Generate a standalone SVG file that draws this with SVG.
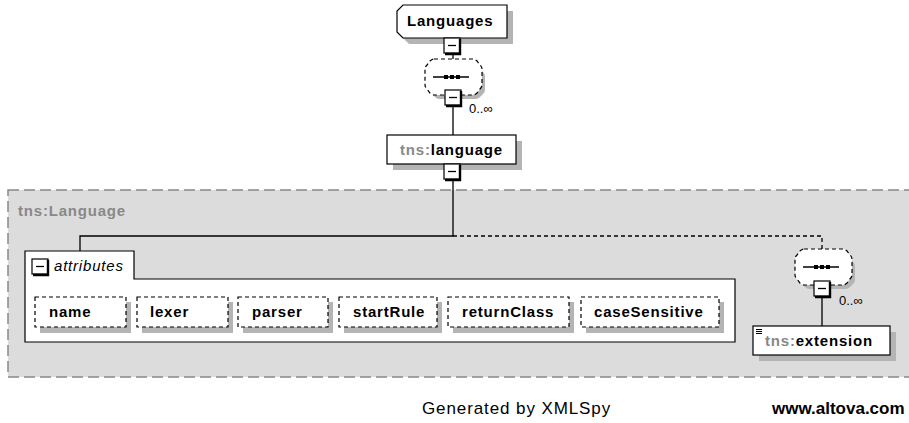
<svg xmlns="http://www.w3.org/2000/svg" width="909" height="423" viewBox="0 0 909 423">
<style>
.t{font-family:"Liberation Sans",Arial,sans-serif;font-size:15px;font-weight:bold;letter-spacing:0.8px;fill:#000}
.g{fill:#888}
.box{fill:#fff;stroke:#000;stroke-width:1.2}
.sh{fill:#b4b4b4}
.dbox{fill:#fff;stroke:#000;stroke-width:1.2;stroke-dasharray:4 3}
.ln{stroke:#000;stroke-width:1.3;fill:none}
.dot{stroke:#000;stroke-width:1.3;fill:none;stroke-dasharray:4 3}
.occ{font-family:"Liberation Sans",Arial,sans-serif;font-size:13px;fill:#000}
</style>
<defs>
<g id="minus">
<rect x="0" y="0" width="16" height="15" fill="#fff" stroke="#000" stroke-width="1.2"/>
<path d="M16,1 V16 H1" fill="none" stroke="#000" stroke-width="2.4"/>
<path d="M4,7.5 H12" stroke="#000" stroke-width="1.3"/>
</g>
<g id="seq">
<path d="M14,5 H49 Q51,5 53,7 L58,13 Q60,15 60,17 V31 Q60,33 58,35 L55,38 Q53,40 51,40 H14 Q12,40 10,38 L7,35 Q5,33 5,31 V17 Q5,15 7,13 L10,9 Q12,5 14,5 Z" fill="#b4b4b4"/>
<path d="M9,0 H48 Q50,0 52,2 L55,6 Q57,8 57,10 V26 Q57,28 55,30 L52,34 Q50,36 48,36 H9 Q7,36 5,34 L2,30 Q0,28 0,26 V10 Q0,8 2,6 L5,2 Q7,0 9,0 Z" fill="#fff" stroke="#000" stroke-width="1.2" stroke-dasharray="4 3"/>
<path d="M8,18 H44" stroke="#000" stroke-width="1.3"/>
<rect x="19" y="16" width="4" height="4" fill="#000"/>
<rect x="25" y="16" width="4" height="4" fill="#000"/>
<rect x="31" y="16" width="4" height="4" fill="#000"/>
</g>
</defs>

<g id="region">
<rect x="8" y="190" width="920" height="187" fill="#dcdcdc" stroke="#888" stroke-width="1.5" stroke-dasharray="11 5"/>
<text class="t g" x="18" y="216">tns:Language</text>
</g>

<g id="connectors">
<path class="ln" d="M453,53 V59"/>
<path class="ln" d="M453,106 V135"/>
<path class="ln" d="M453,181 V236 H80 V251"/>
<path class="dot" d="M453,236 H822 V249"/>
<path class="ln" d="M822,297 V326"/>
</g>

<g id="Languages">
<path class="sh" d="M409,11 H513 V44 H409 L403,38 V17 Z"/>
<path class="box" d="M403,5 H507 V38 H403 L397,32 V11 Z"/>
<text class="t" x="407" y="26">Languages</text>
<use href="#minus" x="444" y="38"/>
</g>

<g id="seq1">
<use href="#seq" x="425" y="59"/>
<use href="#minus" x="445" y="90"/>
<text class="occ" x="469" y="113">0..∞</text>
</g>

<g id="language">
<rect class="sh" x="393" y="141" width="129" height="29"/>
<rect class="box" x="387" y="135" width="129" height="29"/>
<text class="t" x="400" y="155"><tspan class="g">tns:</tspan>language</text>
<use href="#minus" x="444" y="164"/>
</g>

<g id="attributes">
<path class="box" d="M25,251 H134 V279 H735 V342 H25 Z"/>
<use href="#minus" x="32" y="259"/>
<text x="54" y="271" style="font-family:'Liberation Sans',Arial,sans-serif;font-size:15px;font-style:italic;letter-spacing:0.8px">attributes</text>
</g>

<g id="attr-name">
<rect class="sh" x="40" y="302" width="91" height="31"/>
<rect class="dbox" x="35" y="297" width="91" height="30"/>
<text class="t" x="49" y="317">name</text>
</g>
<g id="attr-lexer">
<rect class="sh" x="142" y="302" width="91" height="31"/>
<rect class="dbox" x="137" y="297" width="91" height="30"/>
<text class="t" x="150" y="317">lexer</text>
</g>
<g id="attr-parser">
<rect class="sh" x="243" y="302" width="90" height="31"/>
<rect class="dbox" x="238" y="297" width="90" height="30"/>
<text class="t" x="252" y="317">parser</text>
</g>
<g id="attr-startRule">
<rect class="sh" x="344" y="302" width="98" height="31"/>
<rect class="dbox" x="339" y="297" width="98" height="30"/>
<text class="t" x="353" y="317">startRule</text>
</g>
<g id="attr-returnClass">
<rect class="sh" x="453" y="302" width="121" height="31"/>
<rect class="dbox" x="448" y="297" width="121" height="30"/>
<text class="t" x="462" y="317">returnClass</text>
</g>
<g id="attr-caseSensitive">
<rect class="sh" x="586" y="302" width="138" height="31"/>
<rect class="dbox" x="581" y="297" width="138" height="30"/>
<text class="t" x="594" y="317">caseSensitive</text>
</g>

<g id="seq2">
<use href="#seq" x="795" y="249"/>
<use href="#minus" x="814" y="281"/>
<text class="occ" x="839" y="305">0..∞</text>
</g>

<g id="extension">
<rect class="sh" x="759" y="332" width="137" height="29"/>
<rect class="box" x="753" y="326" width="137" height="29"/>
<path d="M756,329.5 H762 M756,331.5 H762 M756,333.5 H762" stroke="#000" stroke-width="1"/>
<text class="t" x="765" y="346"><tspan class="g">tns:</tspan>extension</text>
</g>

<g id="footer">
<text x="422" y="414" style="font-family:'Liberation Sans',Arial,sans-serif;font-size:17px;letter-spacing:0.9px">Generated by XMLSpy</text>
<text x="772" y="414" style="font-family:'Liberation Sans',Arial,sans-serif;font-size:17px;font-weight:bold">www.altova.com</text>
</g>
</svg>
